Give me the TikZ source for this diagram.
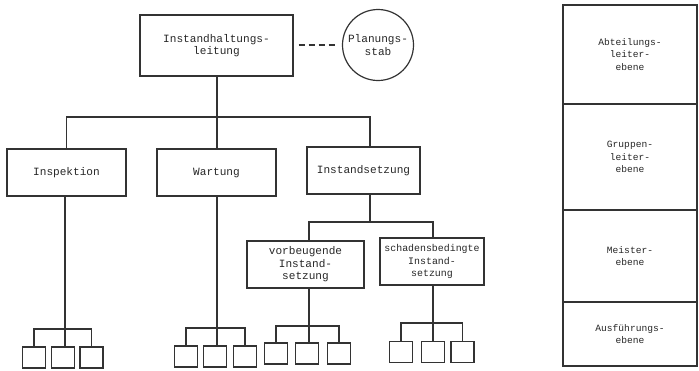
\documentclass[tikz,border=0pt]{standalone}
\usepackage{fontspec}
\newfontfamily\typewriter{Liberation Mono}
\begin{document}
\begin{tikzpicture}[x=1pt,y=-1pt,
  ink/.style={draw=black!80},
  unit/.style={ink, line width=1.3pt, rectangle, inner sep=0pt, align=center,
    font=\typewriter\fontsize{11.1}{12.5}\selectfont, text=black!85},
  leaf/.style={ink, line width=1.2pt, rectangle, minimum width=23, minimum height=21, inner sep=0pt},
  level/.style={ink, line width=1.2pt, rectangle, inner sep=0pt, align=center, minimum width=134,
    font=\typewriter\fontsize{9.6}{12.5}\selectfont, text=black!85},
  link/.style={ink, line width=1.3pt}]
\useasboundingbox (0,0) rectangle (699,370);

% management and staff
\node[unit, minimum width=153, minimum height=61] (lead) at (216.5,45.5) {Instandhaltungs-\\leitung};
\node[ink, line width=1.2pt, circle, minimum size=71, inner sep=0pt, align=center,
  font=\typewriter\fontsize{11.1}{12.5}\selectfont, text=black!85] (staff) at (378,45) {Planungs-\\stab};
\draw[link, dashed, dash pattern=on 6pt off 4pt, shorten <=5, shorten >=6] (lead.east |- 0,45) -- (staff.west);

% first level
\node[unit, minimum width=119, minimum height=47] (insp) at (66.5,172.5) {Inspektion};
\node[unit, minimum width=119, minimum height=47] (wart) at (216.5,172.5) {Wartung};
\node[unit, minimum width=113, minimum height=47] (inst) at (363.5,170.5) {Instandsetzung};
\coordinate (j0) at (217,117);
\coordinate (j1) at (370,117);
\draw[link] (lead.south -| j0) -- (j0);
\draw[link] (insp.north) |- (j1) -- (j1 |- inst.north);
\draw[link] (j0) -- (j0 |- wart.north);

% second level under Instandsetzung
\node[unit, minimum width=117, minimum height=47] (prev) at (305.5,264.5) {vorbeugende\\Instand-\\setzung};
\node[unit, minimum width=104, minimum height=47, font=\typewriter\fontsize{9.9}{12.5}\selectfont] (dmg) at (432,261.5) {schadensbedingte\\Instand-\\setzung};
\coordinate (j2) at (370,222);
\coordinate (jp) at (309,222);
\coordinate (jd) at (433,222);
\draw[link] (j1 |- inst.south) -- (j2);
\draw[link] (jp |- prev.north) |- (jd) -- (jd |- dmg.north);

% execution units
\node[leaf] (i1) at (34,357.5) {};
\node[leaf] (i2) at (63,357.5) {};
\node[leaf] (i3) at (91.5,357.5) {};
\node[leaf] (w1) at (186,356.5) {};
\node[leaf] (w2) at (215,356.5) {};
\node[leaf] (w3) at (245,356.5) {};
\node[leaf] (p1) at (276,353.5) {};
\node[leaf] (p2) at (307,353.5) {};
\node[leaf] (p3) at (339,353.5) {};
\node[leaf] (d1) at (401,352) {};
\node[leaf] (d2) at (433,352) {};
\node[leaf] (d3) at (462.5,352) {};

\coordinate (bi) at (65,329);
\coordinate (bw) at (217,328);
\coordinate (bp) at (309,326);
\coordinate (bd) at (433,323);
\draw[link] (insp.south -| bi) -- (bi);
\draw[link] (i1.north) |- (bi) -| (i3.north);
\draw[link] (bi) -- (bi |- i2.north);
\draw[link] (wart.south -| bw) -- (bw);
\draw[link] (w1.north) |- (bw) -| (w3.north);
\draw[link] (bw) -- (bw |- w2.north);
\draw[link] (prev.south -| bp) -- (bp);
\draw[link] (p1.north) |- (bp) -| (p3.north);
\draw[link] (bp) -- (bp |- p2.north);
\draw[link] (dmg.south -| bd) -- (bd);
\draw[link] (d1.north) |- (bd) -| (d3.north);
\draw[link] (bd) -- (bd |- d2.north);

% hierarchy levels
\node[level, minimum height=99] (lv1) at (630,54.5) {Abteilungs-\\leiter-\\ebene};
\node[level, minimum height=106] (lv2) at (630,157) {Gruppen-\\leiter-\\ebene};
\node[level, minimum height=92] (lv3) at (630,256) {Meister-\\ebene};
\node[level, minimum height=64] (lv4) at (630,334) {Ausführungs-\\ebene};
\end{tikzpicture}
\end{document}
